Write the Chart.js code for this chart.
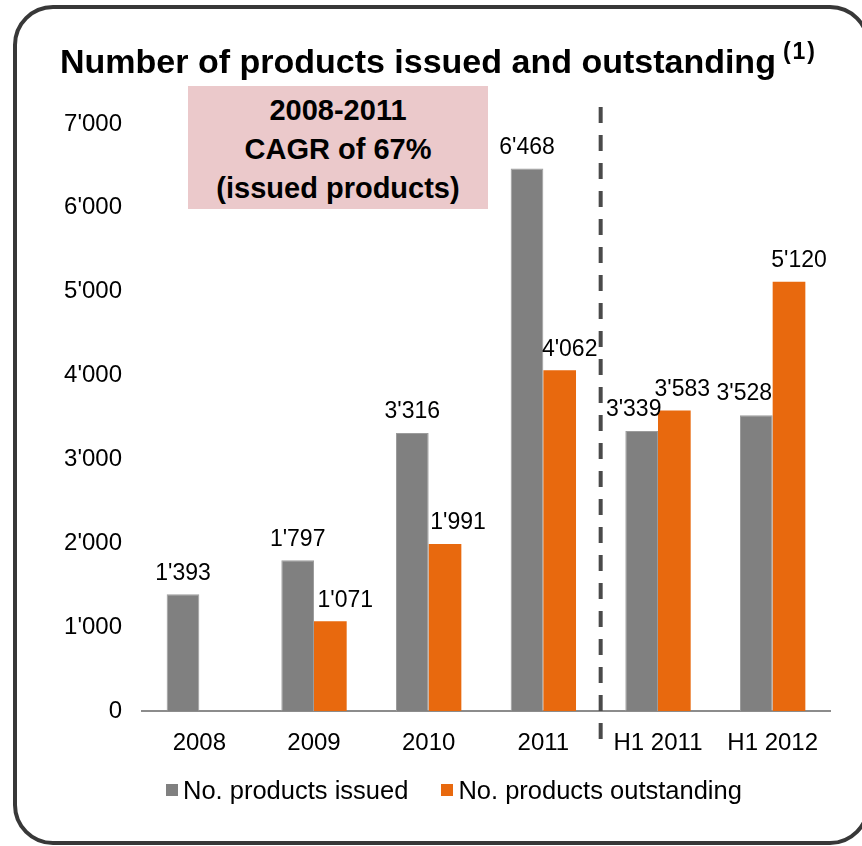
<!DOCTYPE html>
<html>
<head>
<meta charset="utf-8">
<script src="https://cdn.jsdelivr.net/npm/chart.js@4/dist/chart.umd.min.js"></script>
<style>
  html, body { margin: 0; padding: 0; background: #fff; overflow: hidden; }
  #page { position: relative; width: 862px; height: 846px; font-family: "Liberation Sans", Arial, sans-serif; color: #000; }
  #frame { position: absolute; left: 13px; top: 5px; width: 857px; height: 840px; box-sizing: border-box;
           border: 4px solid #383838; border-radius: 40px; }
  #title { position: absolute; left: 60px; top: 36px; font-size: 34px; line-height: 34px; font-weight: bold; white-space: nowrap; }
  #title sup { font-size: 23px; letter-spacing: 2px; position: relative; top: -2px; margin-left: 7px; }
  #note { position: absolute; left: 188px; top: 86px; width: 300px; height: 123px; background: #ebc9cb;
          display: flex; flex-direction: column; justify-content: center; align-items: center;
          font-size: 29px; font-weight: bold; line-height: 39px; text-align: center; padding-top: 3px; box-sizing: border-box; }
  #chart { position: absolute; left: 0; top: 0; }
  #legend { position: absolute; left: 166px; top: 776px; display: flex; font-size: 25.5px; line-height: 28px; white-space: nowrap; }
  #legend .item { display: flex; align-items: center; margin-right: 33px; }
  #legend .box { width: 12px; height: 12px; margin-right: 5px; }
</style>
</head>
<body>
<div id="page">
  <div id="frame"></div>
  <canvas id="chart" width="862" height="846"></canvas>
  <div id="title">Number of products issued and outstanding<sup>(1)</sup></div>
  <div id="note"><div>2008-2011</div><div>CAGR of 67%</div><div>(issued products)</div></div>
  <div id="legend"></div>
</div>
<script>
// Periods on the category axis
const categories = ['2008', '2009', '2010', '2011', 'H1 2011', 'H1 2012'];
// Number of products issued per period
const issued = [1393, 1797, 3316, 6468, 3339, 3528];
// Number of products outstanding at period end (none shown for 2008)
const outstanding = [null, 1071, 1991, 4062, 3583, 5120];
// Value axis tick values
const yTickValues = [0, 1000, 2000, 3000, 4000, 5000, 6000, 7000];

const seriesNames = ['No. products issued', 'No. products outstanding'];
const seriesColors = ['#808080', '#e8690e'];

// 1'234 style thousands separator
function fmt(v) {
  return String(Math.round(v)).replace(/\B(?=(\d{3})+(?!\d))/g, "'");
}

// Value labels above each bar
const valueLabels = {
  id: 'valueLabels',
  afterDatasetsDraw(chart, args, opts) {
    const ctx = chart.ctx;
    ctx.save();
    ctx.font = '23px "Liberation Sans", Arial, sans-serif';
    ctx.fillStyle = '#000';
    ctx.textAlign = 'center';
    ctx.textBaseline = 'middle';
    chart.data.datasets.forEach((ds, i) => {
      const meta = chart.getDatasetMeta(i);
      meta.data.forEach((bar, j) => {
        const v = ds.data[j];
        if (v == null) return;
        const dx = (opts.nudge[i] && opts.nudge[i][j]) || 0;
        ctx.fillText(fmt(v), bar.x + dx, bar.y - 21);
      });
    });
    ctx.restore();
  }
};

// Dashed divider between full years and half years
const divider = {
  id: 'divider',
  afterDraw(chart, args, opts) {
    const xs = chart.scales.x;
    const x = (xs.getPixelForValue(opts.after) + xs.getPixelForValue(opts.after + 1)) / 2;
    const ctx = chart.ctx;
    ctx.save();
    ctx.strokeStyle = '#4a4a4a';
    ctx.lineWidth = 4;
    ctx.setLineDash([16, 12]);
    ctx.beginPath();
    ctx.moveTo(x, chart.chartArea.top - 17);
    ctx.lineTo(x, chart.chartArea.bottom + 38);
    ctx.stroke();
    ctx.restore();
  }
};

const tickFont = { family: '"Liberation Sans", Arial, sans-serif', size: 24 };

new Chart(document.getElementById('chart'), {
  type: 'bar',
  data: {
    labels: categories,
    datasets: [
      { label: seriesNames[0], data: issued, backgroundColor: seriesColors[0], borderColor: '#9c9c9c', borderWidth: 1 },
      { label: seriesNames[1], data: outstanding, backgroundColor: seriesColors[1], borderWidth: 0 }
    ]
  },
  options: {
    responsive: false,
    animation: false,
    layout: { padding: { left: 0, right: 32, top: 124, bottom: 85 } },
    datasets: { bar: { categoryPercentage: 0.57, barPercentage: 1.0 } },
    scales: {
      x: {
        grid: { display: false, drawTicks: false },
        border: { display: true, color: '#8c8c8c', width: 2 },
        ticks: { font: tickFont, color: '#000', padding: 18, maxRotation: 0 },
        afterFit(scale) { scale.height = 50; }
      },
      y: {
        min: 0, max: 7000,
        grid: { display: false, drawTicks: false },
        border: { display: false },
        afterBuildTicks(scale) { scale.ticks = yTickValues.map(v => ({ value: v })); },
        ticks: { font: tickFont, color: '#000', padding: 20, callback: v => fmt(v) },
        afterFit(scale) { scale.width = 142; }
      }
    },
    plugins: {
      legend: { display: false },
      tooltip: { enabled: false },
      valueLabels: { nudge: [[0, 0, 0, 0, -8, -12], [0, 15, 13, 10, 8, 10]] },
      divider: { after: 3 }
    }
  },
  plugins: [valueLabels, divider]
});

// Legend built from the series names and colours
const legend = document.getElementById('legend');
seriesNames.forEach((name, i) => {
  const item = document.createElement('div');
  item.className = 'item';
  const box = document.createElement('span');
  box.className = 'box';
  box.style.background = seriesColors[i];
  const txt = document.createElement('span');
  txt.textContent = name;
  item.appendChild(box);
  item.appendChild(txt);
  legend.appendChild(item);
});
</script>
</body>
</html>
